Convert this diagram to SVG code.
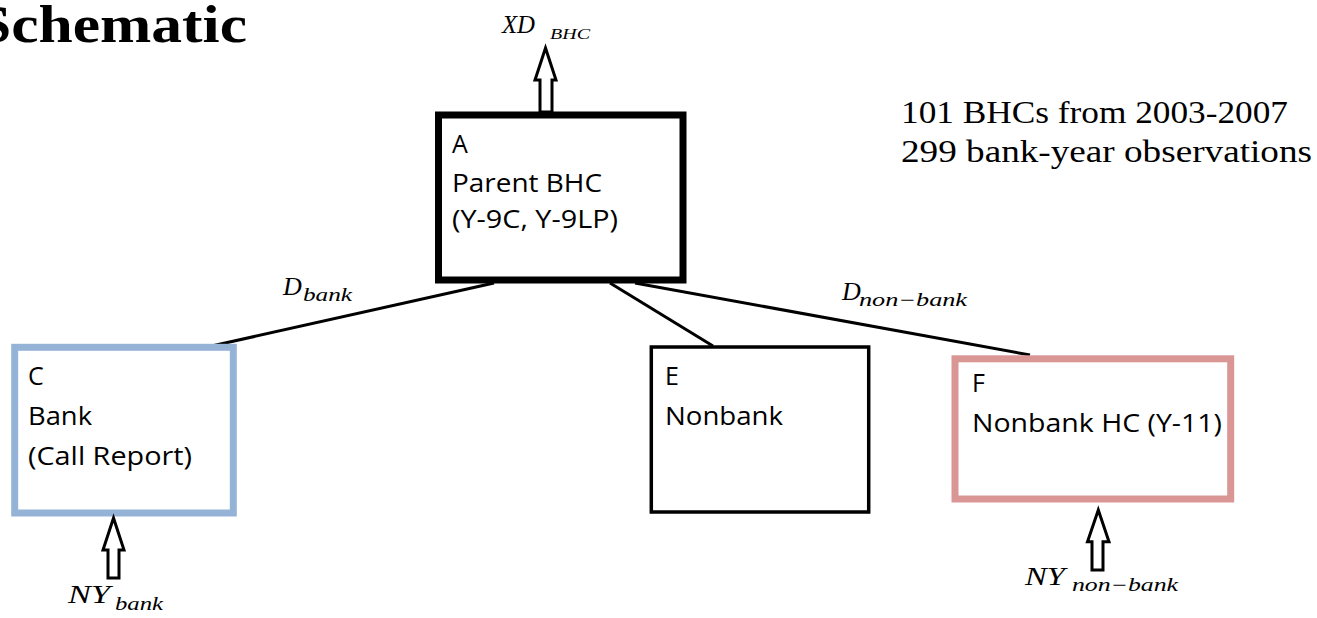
<svg xmlns="http://www.w3.org/2000/svg" width="1317" height="618" viewBox="0 0 1317 618">
<style>
.lbl{font-family:"Open Sans","Noto Sans",sans-serif;font-size:25px;fill:#000}
.math{font-family:"Liberation Serif","DejaVu Serif",serif;font-style:italic;fill:#000}
.big{font-size:26px}
.sub{font-size:18px}
.conn{stroke:#000;stroke-width:3;fill:none;stroke-linecap:butt}
.blk{fill:#fff;stroke:#000;stroke-width:3;stroke-linejoin:miter}
.note{font-family:"Liberation Serif","DejaVu Serif",serif;font-size:32px;fill:#000}
</style>
<rect width="1317" height="618" fill="#fff"/>
<text x="-23" y="42" font-family="Liberation Serif, DejaVu Serif, serif" font-weight="bold" font-size="52" textLength="270" lengthAdjust="spacingAndGlyphs">Schematic</text>
<g id="connectors">
<line class="conn" x1="205" y1="347.5" x2="494" y2="283"/>
<line class="conn" x1="610" y1="283" x2="713" y2="346"/>
<line class="conn" x1="635" y1="283" x2="1030" y2="355"/>
</g>
<g id="nodeA">
<rect x="438.5" y="115" width="244.5" height="165" fill="#fff" stroke="#000" stroke-width="7"/>
<text class="lbl" x="452" y="153">A</text>
<text class="lbl" x="452" y="191.5" textLength="150" lengthAdjust="spacingAndGlyphs">Parent BHC</text>
<text class="lbl" x="452" y="228" textLength="166" lengthAdjust="spacingAndGlyphs">(Y-9C, Y-9LP)</text>
</g>
<g id="nodeC">
<rect x="14.7" y="347.3" width="218.6" height="165.7" fill="#fff" stroke="#95b3d7" stroke-width="7"/>
<text class="lbl" x="28" y="385">C</text>
<text class="lbl" x="28" y="425" textLength="64" lengthAdjust="spacingAndGlyphs">Bank</text>
<text class="lbl" x="28" y="465" textLength="164" lengthAdjust="spacingAndGlyphs">(Call Report)</text>
</g>
<g id="nodeE">
<rect x="651.3" y="347" width="217.4" height="165" fill="#fff" stroke="#000" stroke-width="3.5"/>
<text class="lbl" x="665" y="385">E</text>
<text class="lbl" x="665" y="425" textLength="118" lengthAdjust="spacingAndGlyphs">Nonbank</text>
</g>
<g id="nodeF">
<rect x="955" y="358.8" width="275.7" height="140.2" fill="#fff" stroke="#d99694" stroke-width="7"/>
<text class="lbl" x="972" y="391.7">F</text>
<text class="lbl" x="972" y="431.7" textLength="250" lengthAdjust="spacingAndGlyphs">Nonbank HC (Y-11)</text>
</g>
<g id="arrowXD">
<polygon class="blk" points="545.5,48 556,80 552,80 552,112 540,112 540,80 535,80"/>
<text class="math big" x="502" y="33" textLength="33" lengthAdjust="spacingAndGlyphs">XD</text>
<text class="math" x="550" y="39" font-size="15" textLength="40" lengthAdjust="spacingAndGlyphs">BHC</text>
</g>
<g id="arrowNYbank">
<polygon class="blk" points="113.5,518 124,550 119,550 119,578 108,578 108,550 103,550"/>
<text class="math big" x="68" y="603" textLength="42" lengthAdjust="spacingAndGlyphs">NY</text>
<text class="math sub" x="115" y="610" textLength="48" lengthAdjust="spacingAndGlyphs">bank</text>
</g>
<g id="arrowNYnonbank">
<polygon class="blk" points="1098.3,510 1109,541.7 1103,541.7 1103,570 1092,570 1092,541.7 1087.5,541.7"/>
<text class="math big" x="1025" y="585" textLength="40" lengthAdjust="spacingAndGlyphs">NY</text>
<text class="math sub" x="1072" y="591" textLength="106" lengthAdjust="spacingAndGlyphs">non−bank</text>
</g>
<g id="labelDbank">
<text class="math big" x="283" y="295">D</text>
<text class="math sub" x="303" y="301" textLength="49" lengthAdjust="spacingAndGlyphs">bank</text>
</g>
<g id="labelDnonbank">
<text class="math big" x="842" y="300">D</text>
<text class="math sub" x="859" y="306" textLength="108" lengthAdjust="spacingAndGlyphs">non−bank</text>
</g>
<g id="notes">
<text class="note" x="901" y="123" textLength="387" lengthAdjust="spacingAndGlyphs">101 BHCs from 2003-2007</text>
<text class="note" x="901" y="162" textLength="411" lengthAdjust="spacingAndGlyphs">299 bank-year observations</text>
</g>
</svg>
